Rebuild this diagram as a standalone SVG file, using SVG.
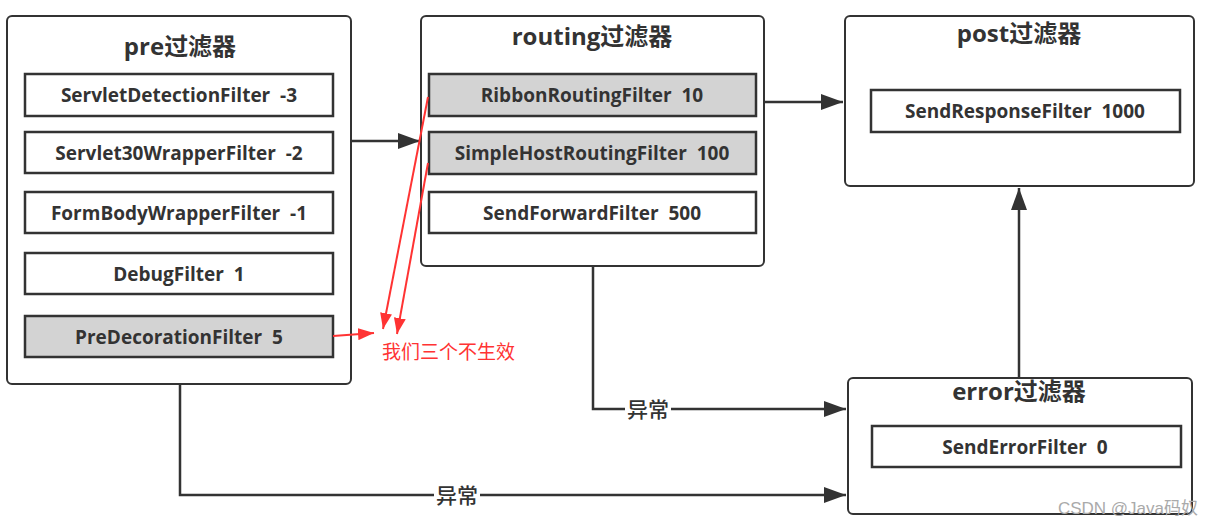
<svg xmlns="http://www.w3.org/2000/svg" width="1217" height="528" viewBox="0 0 1217 528">
<style>
.outer{fill:#fff;stroke:#333;stroke-width:2}
.inner{fill:#fff;stroke:#333;stroke-width:2.5}
.hl{fill:#d3d3d3}
.title{font-family:"Open Sans","Noto Sans CJK SC",sans-serif;font-size:24px;font-weight:bold;fill:#333;text-anchor:middle}
.lbl{font-family:"Open Sans","Noto Sans CJK SC",sans-serif;font-size:19px;font-weight:bold;fill:#333;text-anchor:middle}
.edge{fill:none;stroke:#333;stroke-width:2.5}
.elbl{font-family:"Noto Sans CJK SC",sans-serif;font-size:21px;font-weight:500;fill:#333;text-anchor:middle}
.red{fill:none;stroke:#ff3333;stroke-width:2}
.redtxt{font-family:"Noto Sans CJK SC",sans-serif;font-size:19px;fill:#ff3333}
</style>
<defs>
<marker id="ah" viewBox="0 0 22 16" refX="22" refY="8" markerWidth="22" markerHeight="16" markerUnits="userSpaceOnUse" orient="auto"><path d="M0,0 L22,8 L0,16 z" fill="#333"/></marker>
<marker id="rah" viewBox="0 0 16 12" refX="16" refY="6" markerWidth="16" markerHeight="12" markerUnits="userSpaceOnUse" orient="auto"><path d="M0,0 L16,6 L0,12 z" fill="#ff3333"/></marker>
</defs>
<rect width="1217" height="528" fill="#fff"/>
<g id="pre">
<rect class="outer" x="7" y="16" width="344" height="368" rx="5"/>
<text class="title" x="180" y="55">pre过滤器</text>
<rect class="inner" x="25" y="74" width="308" height="42"/>
<text class="lbl" x="179" y="102" xml:space="preserve">ServletDetectionFilter  -3</text>
<rect class="inner" x="25" y="132" width="308" height="41"/>
<text class="lbl" x="179" y="160" xml:space="preserve">Servlet30WrapperFilter  -2</text>
<rect class="inner" x="25" y="192" width="308" height="41"/>
<text class="lbl" x="179" y="220" xml:space="preserve">FormBodyWrapperFilter  -1</text>
<rect class="inner" x="25" y="253" width="308" height="41"/>
<text class="lbl" x="179" y="281" xml:space="preserve">DebugFilter  1</text>
<rect class="inner hl" x="25" y="316" width="308" height="41"/>
<text class="lbl" x="179" y="344" xml:space="preserve">PreDecorationFilter  5</text>
</g>
<g id="routing">
<rect class="outer" x="421" y="16" width="343" height="250" rx="5"/>
<text class="title" x="592" y="45">routing过滤器</text>
<rect class="inner hl" x="429" y="74" width="327" height="42"/>
<text class="lbl" x="592" y="102" xml:space="preserve">RibbonRoutingFilter  10</text>
<rect class="inner hl" x="429" y="132" width="327" height="42"/>
<text class="lbl" x="592" y="160" xml:space="preserve">SimpleHostRoutingFilter  100</text>
<rect class="inner" x="429" y="192" width="327" height="41"/>
<text class="lbl" x="592" y="220" xml:space="preserve">SendForwardFilter  500</text>
</g>
<g id="post">
<rect class="outer" x="845" y="16" width="349" height="170" rx="5"/>
<text class="title" x="1019" y="42">post过滤器</text>
<rect class="inner" x="871" y="90" width="309" height="42"/>
<text class="lbl" x="1025" y="118" xml:space="preserve">SendResponseFilter  1000</text>
</g>
<g id="error">
<rect class="outer" x="848" y="378" width="344" height="136" rx="5"/>
<text class="title" x="1019" y="400">error过滤器</text>
<rect class="inner" x="872" y="426" width="309" height="41"/>
<text class="lbl" x="1025" y="454" xml:space="preserve">SendErrorFilter  0</text>
</g>
<g id="connectors">
<path class="edge" d="M351,141 L420,141" marker-end="url(#ah)"/>
<path class="edge" d="M764,102 L843,102" marker-end="url(#ah)"/>
<path class="edge" d="M1019,378 L1019,188" marker-end="url(#ah)"/>
<path class="edge" d="M593,266 L593,409 L846,409" marker-end="url(#ah)"/>
<path class="edge" d="M180,384 L180,495 L846,495" marker-end="url(#ah)"/>
<rect x="625" y="398" width="46" height="22" fill="#fff"/>
<text class="elbl" x="648" y="417">异常</text>
<rect x="434" y="484" width="46" height="22" fill="#fff"/>
<text class="elbl" x="457" y="503">异常</text>
<path class="red" d="M333,336 L374,333" marker-end="url(#rah)"/>
<path class="red" d="M428,97 L383,329" marker-end="url(#rah)"/>
<path class="red" d="M428,163 L397,334" marker-end="url(#rah)"/>
</g>
<text class="redtxt" x="382" y="359">我们三个不生效</text>
<text x="1198" y="514" font-family="'Liberation Sans','Noto Sans CJK SC',sans-serif" font-size="17" fill="#aaa" text-anchor="end">CSDN @Java码奴</text>
</svg>
